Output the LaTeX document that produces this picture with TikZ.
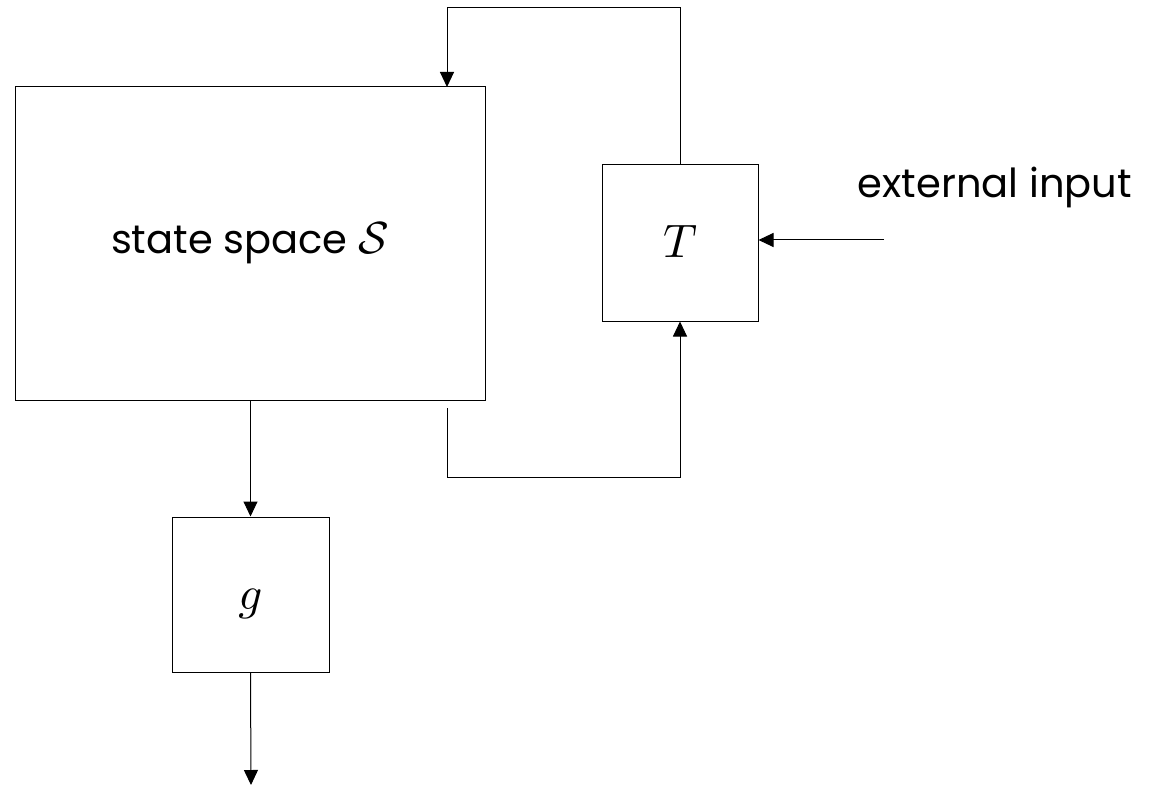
\documentclass[tikz,border=0pt]{standalone}
\usepackage{graphicx}
\usepackage{fontspec}
\setmainfont{Poppins}
\usetikzlibrary{arrows.meta}
\begin{document}
\begin{tikzpicture}[x=1pt,y=-1pt,
  box/.style={draw,line width=1pt,inner sep=0pt},
  mathbox/.style={box,text height=30pt,text depth=0pt},
  lbl/.style={font=\fontsize{40}{46}\selectfont},
  conn/.style={line width=1pt,-{Triangle[width=14pt,length=15pt]}}]
\useasboundingbox (0,0) rectangle (1150,791);
\node[box,lbl,minimum width=470pt,minimum height=313pt] (S) at (250,243.5) {state space {\normalsize\scalebox{4.5}{$\mathcal{S}$}}};
\node[mathbox,minimum width=156pt,minimum height=156pt] (T) at (680,243) {\scalebox{4.7}{$T$}};
\node[mathbox,minimum width=157pt,minimum height=155pt] (g) at (250.5,594.5) {\scalebox{4.7}{$g$}};
\node[lbl] (ext) at (995,187) {external input};
\coordinate (extin) at (884,240);
\coordinate (sout) at (447,408);
\coordinate (out) at (251,785);
\draw[conn] (T.north) |- (447,8) -- (447,87);
\draw[conn] (sout) |- (680,477) -- (T.south);
\draw[conn] (extin) -- (T.east |- extin);
\draw[conn] (S.south -| g.north) -- (g.north);
\draw[conn] (g.south) -- (out);
\end{tikzpicture}
\end{document}
